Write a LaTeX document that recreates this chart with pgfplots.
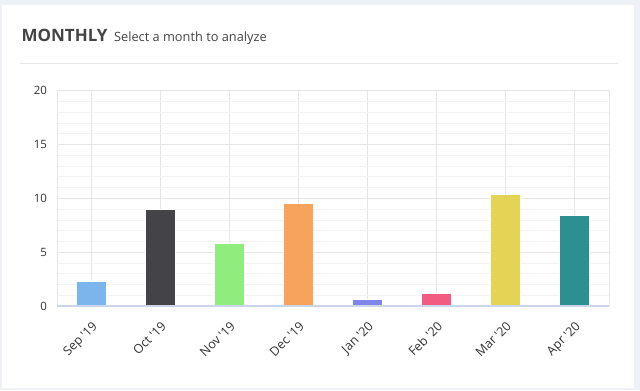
\documentclass[border=0pt]{standalone}
\usepackage{pgfplots}
\pgfplotsset{compat=1.18}
\usepackage{fontspec}
\setmainfont{Open Sans}
\definecolor{bgc}{HTML}{EEF1F5}
\definecolor{txtc}{HTML}{333333}
\definecolor{ttlc}{HTML}{444444}
\definecolor{gridc}{HTML}{E6E6E6}
\definecolor{mgridc}{HTML}{F3F3F3}
\definecolor{axlc}{HTML}{CCD6EB}
\definecolor{c1}{HTML}{7CB5EC}
\definecolor{c2}{HTML}{434348}
\definecolor{c3}{HTML}{90ED7D}
\definecolor{c4}{HTML}{F7A35C}
\definecolor{c5}{HTML}{8085E9}
\definecolor{c6}{HTML}{F15C80}
\definecolor{c7}{HTML}{E4D354}
\definecolor{c8}{HTML}{2B908F}
\newcommand{\q}{\textquotesingle}
\begin{document}
\begin{tikzpicture}
\fill[bgc] (0pt,0pt) rectangle (480pt,292.5pt);
\fill[white] (1.5pt,1.5pt) rectangle (475.5pt,288.75pt);
\draw[gridc,line width=0.5pt] (15pt,245.25pt) -- (463.5pt,245.25pt);
\node[anchor=base west,inner sep=0,text=ttlc,font=\fontsize{12.75}{14}\selectfont\bfseries] (t) at (16pt,261pt) {MONTHLY};
\node[anchor=base west,inner sep=0,text=ttlc,font=\fontsize{9.6}{11}\selectfont] at ([xshift=4.5pt]t.base east) {Select a month to analyze};
\begin{axis}[
  at={(42.75pt,63pt)}, anchor=south west,
  scale only axis, width=414pt, height=161.5pt,
  xmin=-0.5, xmax=7.5, ymin=0, ymax=20,
  xtick={0,...,7},
  xticklabels={Sep \q19,Oct \q19,Nov \q19,Dec \q19,Jan \q20,Feb \q20,Mar \q20,Apr \q20},
  ytick={0,5,10,15,20},
  minor ytick={1,2,3,4,6,7,8,9,11,12,13,14,16,17,18,19},
  ymajorgrids, yminorgrids, xmajorgrids,
  major grid style={draw=gridc,line width=0.6pt},
  minor grid style={draw=mgridc,line width=0.5pt},
  axis line style={draw=gridc,line width=0.6pt},
  tick style={draw=none},
  /pgf/number format/assume math mode=true,
  ticklabel style={font=\fontsize{8.6}{10}\selectfont, text=txtc},
  xticklabel style={font=\fontsize{9.4}{11}\selectfont, rotate=45, anchor=north east, inner sep=1pt, yshift=-3.5pt, xshift=-3.5pt},
  yticklabel style={xshift=-4pt},
  ybar, bar width=22.5pt, bar shift=0pt,
]
\addplot[fill=c1,draw=white,line width=0.4pt] coordinates {(0,2.3)};
\addplot[fill=c2,draw=white,line width=0.4pt] coordinates {(1,9.0)};
\addplot[fill=c3,draw=white,line width=0.4pt] coordinates {(2,5.8)};
\addplot[fill=c4,draw=white,line width=0.4pt] coordinates {(3,9.5)};
\addplot[fill=c5,draw=white,line width=0.4pt] coordinates {(4,0.65)};
\addplot[fill=c6,draw=white,line width=0.4pt] coordinates {(5,1.2)};
\addplot[fill=c7,draw=white,line width=0.4pt] coordinates {(6,10.4)};
\addplot[fill=c8,draw=white,line width=0.4pt] coordinates {(7,8.45)};
\draw[axlc,line width=0.8pt] (rel axis cs:0,0) -- (rel axis cs:1,0);
\end{axis}
\end{tikzpicture}
\end{document}
